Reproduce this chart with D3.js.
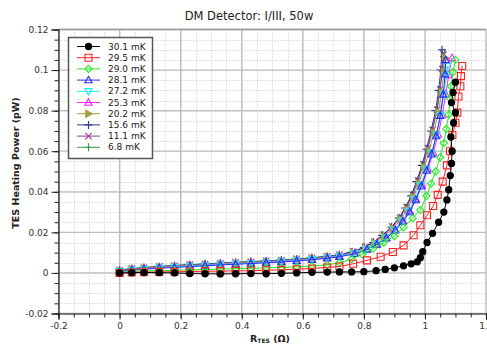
<!DOCTYPE html>
<html><head><meta charset="utf-8">
<script src="https://cdn.jsdelivr.net/npm/d3@7"></script>
<style>body{margin:0;background:#fff}svg{display:block;font-family:"DejaVu Sans",sans-serif}</style>
</head><body><svg id="c" width="487" height="347"></svg>
<script>
// ---- data ----
const seriesNames = ["30.1 mK","29.5 mK","29.0 mK","28.1 mK","27.2 mK","25.3 mK","20.2 mK","15.6 mK","11.1 mK","6.8 mK"];
const xTickValues = [-0.2,0,0.2,0.4,0.6,0.8,1,1.2];
const xTickLabels = ["-0.2","0","0.2","0.4","0.6","0.8","1","1.2"];
const yTickValues = [-0.02,0,0.02,0.04,0.06,0.08,0.1,0.12];
const yTickLabels = ["-0.02","0","0.02","0.04","0.06","0.08","0.1","0.12"];
const rLow = [0,0.04,0.08,0.13,0.18,0.23,0.28,0.33,0.38,0.43,0.48,0.53,0.58,0.63,0.68,0.72];

const r301 = rLow.concat([0.76,0.80,0.84,0.87,0.90,0.93,0.955,0.975,0.985,0.993,1.007,1.025,1.045,1.062,1.072,1.078,1.083,1.087,1.089,1.085,1.094,1.10,1.087,1.092,1.10]);
const p301 = [0.0000,0.0001,0.0002,0.0001,0.0000,-0.0003,-0.0004,-0.0005,-0.0004,-0.0003,-0.0004,-0.0002,0.0000,0.0003,0.0004,0.0005,
  0.0005,0.0006,0.0011,0.0017,0.0025,0.0035,0.0045,0.0055,0.0075,0.0105,0.0150,0.0195,0.0250,0.0300,0.0360,0.0410,0.0480,0.0540,0.0600,0.0670,0.0740,0.0790,0.0840,0.0890,0.0940];

const r295 = rLow.concat([0.765,0.81,0.855,0.895,0.93,0.963,0.985,1.007,1.027,1.042,1.058,1.072,1.082,1.09,1.10,1.106,1.11,1.116,1.118,1.122]);
const p295 = [0.0000,0.0002,0.0003,0.0005,0.0006,0.0007,0.0008,0.0009,0.0010,0.0011,0.0013,0.0015,0.0018,0.0022,0.0027,0.0032,
  0.0045,0.0062,0.0080,0.0103,0.0136,0.0186,0.0235,0.0284,0.0330,0.0385,0.0450,0.0530,0.0600,0.0680,0.0740,0.0790,0.0870,0.0920,0.0970,0.1020];

const r290 = rLow.concat([0.76,0.795,0.83,0.865,0.90,0.93,0.96,0.985,1.005,1.02,1.035,1.05,1.062,1.07,1.078,1.082,1.085,1.092,1.10]);
const p290 = [0.0004,0.0007,0.0009,0.0011,0.0013,0.0015,0.0017,0.0019,0.0021,0.0023,0.0025,0.0027,0.0030,0.0034,0.0040,0.0050,
  0.0068,0.0092,0.0120,0.0150,0.0182,0.0225,0.0270,0.0310,0.0380,0.0440,0.0500,0.0570,0.0640,0.0710,0.0780,0.0860,0.0920,0.0990,0.1050];

const r281 = rLow.concat([0.77,0.81,0.843,0.874,0.903,0.928,0.95,0.97,0.988,1.006,1.022,1.037,1.05,1.06,1.066,1.068]);
const p281 = [0.0007,0.0013,0.0018,0.0023,0.0027,0.0031,0.0035,0.0039,0.0043,0.0046,0.0050,0.0054,0.0059,0.0065,0.0072,0.0080,
  0.0094,0.0116,0.0140,0.0171,0.0210,0.0253,0.0300,0.0359,0.0427,0.0505,0.0585,0.0675,0.0775,0.0880,0.0980,0.1050];

const r272 = rLow.concat([0.768,0.808,0.84,0.871,0.90,0.925,0.947,0.967,0.986,1.005,1.022,1.038,1.052,1.062,1.07,1.074]);
const p272 = [0.0008,0.0014,0.0019,0.0024,0.0029,0.0033,0.0037,0.0041,0.0045,0.0048,0.0052,0.0056,0.0061,0.0067,0.0074,0.0082,
  0.0096,0.0118,0.0142,0.0174,0.0213,0.0257,0.0305,0.0364,0.0432,0.0511,0.0591,0.0681,0.0778,0.0880,0.0975,0.1020];

const r253 = rLow.concat([0.77,0.81,0.842,0.873,0.902,0.928,0.95,0.97,0.99,1.01,1.027,1.043,1.057,1.068,1.078,1.089]);
const p253 = [0.0009,0.0015,0.0020,0.0025,0.0030,0.0034,0.0038,0.0042,0.0046,0.0049,0.0053,0.0057,0.0062,0.0068,0.0075,0.0083,
  0.0097,0.0119,0.0143,0.0175,0.0214,0.0258,0.0306,0.0365,0.0433,0.0512,0.0592,0.0682,0.0778,0.0880,0.0975,0.1060];

const r202 = rLow.concat([0.765,0.805,0.835,0.866,0.895,0.92,0.942,0.962,0.98,0.998,1.014,1.029,1.044,1.055,1.062,1.066]);
const p202 = [0.0011,0.0018,0.0023,0.0028,0.0033,0.0037,0.0041,0.0045,0.0049,0.0052,0.0056,0.0060,0.0065,0.0071,0.0078,0.0086,
  0.0100,0.0122,0.0147,0.0180,0.0220,0.0264,0.0314,0.0374,0.0443,0.0522,0.0602,0.0692,0.0792,0.0892,0.0992,0.1060];

const r156 = rLow.concat([0.76,0.80,0.83,0.86,0.89,0.915,0.935,0.955,0.972,0.99,1.005,1.02,1.035,1.045,1.052,1.056]);
const p156 = [0.0014,0.0020,0.0026,0.0031,0.0036,0.0040,0.0044,0.0048,0.0051,0.0055,0.0059,0.0063,0.0068,0.0074,0.0081,0.0089,
  0.0102,0.0125,0.0150,0.0185,0.0225,0.0270,0.0320,0.0380,0.0450,0.0530,0.0610,0.0700,0.0800,0.0900,0.1000,0.1100];

const r111 = rLow.concat([0.765,0.805,0.835,0.865,0.893,0.918,0.94,0.96,0.977,0.995,1.01,1.025,1.04,1.05,1.057,1.06]);
const p111 = [0.0013,0.0021,0.0025,0.0032,0.0035,0.0041,0.0043,0.0047,0.0052,0.0054,0.0060,0.0062,0.0069,0.0073,0.0082,0.0090,
  0.0105,0.0128,0.0153,0.0188,0.0228,0.0272,0.0325,0.0385,0.0455,0.0535,0.0615,0.0705,0.0805,0.0905,0.1005,0.1080];

const r068 = rLow.concat([0.762,0.802,0.832,0.862,0.891,0.916,0.937,0.957,0.975,0.993,1.008,1.023,1.038,1.049,1.058,1.064]);
const p068 = [0.0015,0.0021,0.0027,0.0031,0.0037,0.0040,0.0045,0.0048,0.0052,0.0056,0.0059,0.0064,0.0068,0.0075,0.0081,0.0090,
  0.0104,0.0127,0.0152,0.0187,0.0227,0.0272,0.0322,0.0383,0.0452,0.0532,0.0612,0.0702,0.0802,0.0902,0.1002,0.1085];

const seriesR = [r301,r295,r290,r281,r272,r253,r202,r156,r111,r068];
const seriesP = [p301,p295,p290,p281,p272,p253,p202,p156,p111,p068];
const seriesColors = ["#000000","#ff2020","#20ee20","#2a2aff","#22eeee","#ff22ff","#a0a040","#333399","#9a3a9a","#3a9a3a"];
const seriesMarkers = ["circleF","square","diamond","triUp","triDown","triUp","triRightF","plus","cross","vbar"];

// ---- layout ----
const svg = d3.select("#c");
const x = d3.scaleLinear().domain([-0.2,1.2]).range([58.5,486]);
const y = d3.scaleLinear().domain([-0.02,0.12]).range([313.5,29.5]);

// minor grid
const xMinor = d3.range(-0.2,1.2001,0.05);
const yMinor = d3.range(-0.02,0.12001,0.005);
const grid = svg.append("g");
grid.selectAll(".vm").data(xMinor).join("line")
  .attr("x1",d=>Math.round(x(d))+0.5).attr("x2",d=>Math.round(x(d))+0.5)
  .attr("y1",y(0.12)).attr("y2",y(-0.02))
  .attr("stroke","#c4c4c4").attr("stroke-width",1).attr("stroke-dasharray","1,2");
grid.selectAll(".hm").data(yMinor).join("line")
  .attr("y1",d=>Math.round(y(d))+0.5).attr("y2",d=>Math.round(y(d))+0.5)
  .attr("x1",x(-0.2)).attr("x2",x(1.2))
  .attr("stroke","#c4c4c4").attr("stroke-width",1).attr("stroke-dasharray","1,2");
// major grid
grid.selectAll(".vM").data(xTickValues).join("line")
  .attr("x1",d=>x(d)).attr("x2",d=>x(d))
  .attr("y1",y(0.12)).attr("y2",y(-0.02))
  .attr("stroke","#bdbdbd").attr("stroke-width",1.3);
grid.selectAll(".hM").data(yTickValues).join("line")
  .attr("y1",d=>y(d)).attr("y2",d=>y(d))
  .attr("x1",x(-0.2)).attr("x2",x(1.2))
  .attr("stroke","#bdbdbd").attr("stroke-width",1.3);
svg.append("line").attr("x1",x(-0.2)).attr("x2",x(1.2)).attr("y1",y(0.12)).attr("y2",y(0.12))
  .attr("stroke","#999").attr("stroke-width",1.5);

// axes
const xAxisMinor = d3.axisBottom(x).tickValues(xMinor).tickSize(4).tickFormat("");
const yAxisMinor = d3.axisLeft(y).tickValues(yMinor).tickSize(4).tickFormat("");
svg.append("g").attr("transform",`translate(0,${y(-0.02)})`).call(xAxisMinor)
  .call(g=>g.select(".domain").remove()).selectAll("line").attr("stroke","#222");
svg.append("g").attr("transform",`translate(${x(-0.2)},0)`).call(yAxisMinor)
  .call(g=>g.select(".domain").remove()).selectAll("line").attr("stroke","#222");
const xAxis = d3.axisBottom(x).tickValues(xTickValues).tickSize(6).tickPadding(3).tickFormat((d,i)=>xTickLabels[i]);
const yAxis = d3.axisLeft(y).tickValues(yTickValues).tickSize(7).tickPadding(3).tickFormat((d,i)=>yTickLabels[i]);
const gx = svg.append("g").attr("transform",`translate(0,${y(-0.02)})`).call(xAxis);
const gy = svg.append("g").attr("transform",`translate(${x(-0.2)},0)`).call(yAxis);
[gx,gy].forEach(g=>{
  g.select(".domain").attr("stroke","#222").attr("stroke-width",1.2);
  g.selectAll("line").attr("stroke","#222");
  g.selectAll("text").attr("font-family","DejaVu Sans").attr("font-size","9px").attr("fill","#333");
});

// markers
function markerPath(m){
  switch(m){
    case "circleF": return d3.symbol(d3.symbolCircle,30)();
    case "square": return "M-3.5,-3.5H3.5V3.5H-3.5Z";
    case "diamond": return "M0,-3.6L3.6,0L0,3.6L-3.6,0Z";
    case "triUp": return "M0,-3.8L3.6,2.7L-3.6,2.7Z";
    case "triDown": return "M0,3.8L3.6,-2.7L-3.6,-2.7Z";
    case "triRightF": return "M3.8,0L-2.7,3.6L-2.7,-3.6Z";
    case "plus": return "M-4,0H4M0,-4V4";
    case "cross": return "M-3.2,-3.2L3.2,3.2M-3.2,3.2L3.2,-3.2";
    case "vbar": return "M0,-4V4M-2,0H2";
  }
}
function styleMarker(sel,i){
  const m = seriesMarkers[i], c = seriesColors[i];
  const filled = m.endsWith("F");
  sel.attr("d",markerPath(m))
    .attr("fill",filled?c:"none")
    .attr("stroke",c).attr("stroke-width",1.1);
}

// series (drawn last-to-first so the first series sits on top)
const plot = svg.append("g");
const line = d3.line().x(d=>x(d[0])).y(d=>y(d[1]));
for(let i=seriesNames.length-1;i>=0;i--){
  const pts = seriesR[i].map((r,k)=>[r,seriesP[i][k]]);
  const g = plot.append("g");
  g.append("path").datum(pts).attr("d",line).attr("fill","none")
    .attr("stroke",seriesColors[i]).attr("stroke-width",1);
  g.selectAll("path.m").data(pts).join("path").attr("class","m")
    .attr("transform",d=>`translate(${x(d[0])},${y(d[1])})`)
    .call(s=>styleMarker(s,i));
}

// legend
const lg = svg.append("g");
lg.append("rect").attr("x",68.5).attr("y",37.5).attr("width",84).attr("height",121)
  .attr("fill","#fff").attr("stroke","#555").attr("stroke-width",1.5);
seriesNames.forEach((n,i)=>{
  const yy = 46.5 + i*11.2;
  lg.append("line").attr("x1",77).attr("x2",100).attr("y1",yy).attr("y2",yy)
    .attr("stroke",seriesColors[i]).attr("stroke-width",1);
  lg.append("path").attr("transform",`translate(88.5,${yy})`).call(s=>styleMarker(s,i));
  lg.append("text").attr("x",108).attr("y",yy).attr("dy","0.35em")
    .attr("font-size","9px").attr("fill","#222").text(n);
});

// titles
svg.append("text").attr("x",249).attr("y",20).attr("text-anchor","middle")
  .attr("font-size","11.5px").attr("fill","#222").text("DM Detector: I/III, 50w");
svg.append("text").attr("transform","translate(19,163) rotate(-90)").attr("text-anchor","middle")
  .attr("font-size","9.5px").attr("font-weight","bold").attr("fill","#222").text("TES Heating Power (pW)");
const xl = svg.append("text").attr("x",270).attr("y",342).attr("text-anchor","middle")
  .attr("font-size","9.5px").attr("font-weight","bold").attr("fill","#222");
xl.append("tspan").text("R");
xl.append("tspan").attr("font-size","6px").attr("dy","1").text("TES");
xl.append("tspan").attr("dy","-1").text(" (Ω)");
</script></body></html>
